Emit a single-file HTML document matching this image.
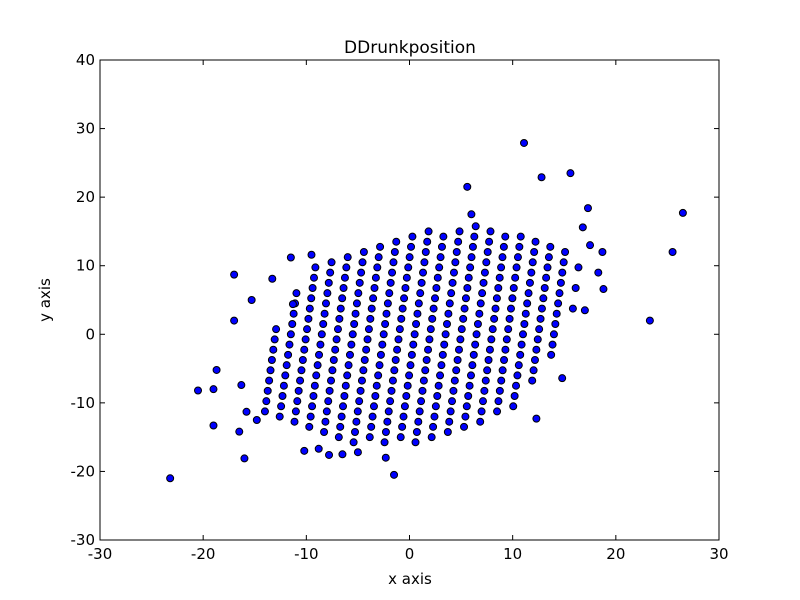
<!DOCTYPE html>
<html><head><meta charset="utf-8"><style>
body{margin:0;background:#fff;}
svg{display:block;font-family:"DejaVu Sans","Liberation Sans",sans-serif;}
</style></head><body>
<svg id="chart" width="800" height="600" xmlns="http://www.w3.org/2000/svg">
<rect x="0" y="0" width="800" height="600" fill="#fff"/>
<text x="410" y="53" text-anchor="middle" font-size="17">DDrunkposition</text>
<text x="410" y="584" text-anchor="middle" font-size="15">x axis</text>
<text x="50" y="300" text-anchor="middle" font-size="15" transform="rotate(-90 50 300)">y axis</text>
<g id="ticks"></g>
<g id="points"></g>
<rect x="100" y="60" width="619" height="480" fill="none" stroke="#000" stroke-width="1"/>
</svg>
<script>
const xTicks=[-30,-20,-10,0,10,20,30];
const yTicks=[-30,-20,-10,0,10,20,30,40];
const colX=[-13,-11.5,-10,-8.5,-7,-5.5,-4,-2.5,-1,0.5,2,3.5,5,6.5,8,9.5,11,12.5,14,15.5];
const colY=[
[-11.25,-9.75,-8.25,-6.75,-5.25,-3.75,-2.25,-0.75,0.75],
[-12,-10.5,-9,-7.5,-6,-4.5,-3,-1.5,0,1.5,3,4.5,6],
[-12.75,-11.25,-9.75,-8.25,-6.75,-5.25,-3.75,-2.25,-0.75,0.75,2.25,3.75,5.25,6.75,8.25,9.75],
[-13.5,-12,-10.5,-9,-7.5,-6,-4.5,-3,-1.5,0,1.5,3,4.5,6,7.5,9,10.5],
[-14.25,-12.75,-11.25,-9.75,-8.25,-6.75,-5.25,-3.75,-2.25,-0.75,0.75,2.25,3.75,5.25,6.75,8.25,9.75,11.25],
[-15,-13.5,-12,-10.5,-9,-7.5,-6,-4.5,-3,-1.5,0,1.5,3,4.5,6,7.5,9,10.5,12],
[-15.75,-14.25,-12.75,-11.25,-9.75,-8.25,-6.75,-5.25,-3.75,-2.25,-0.75,0.75,2.25,3.75,5.25,6.75,8.25,9.75,11.25,12.75],
[-15,-13.5,-12,-10.5,-9,-7.5,-6,-4.5,-3,-1.5,0,1.5,3,4.5,6,7.5,9,10.5,12,13.5],
[-15.75,-14.25,-12.75,-11.25,-9.75,-8.25,-6.75,-5.25,-3.75,-2.25,-0.75,0.75,2.25,3.75,5.25,6.75,8.25,9.75,11.25,12.75,14.25],
[-15,-13.5,-12,-10.5,-9,-7.5,-6,-4.5,-3,-1.5,0,1.5,3,4.5,6,7.5,9,10.5,12,13.5,15],
[-15.75,-14.25,-12.75,-11.25,-9.75,-8.25,-6.75,-5.25,-3.75,-2.25,-0.75,0.75,2.25,3.75,5.25,6.75,8.25,9.75,11.25,12.75,14.25],
[-15,-13.5,-12,-10.5,-9,-7.5,-6,-4.5,-3,-1.5,0,1.5,3,4.5,6,7.5,9,10.5,12,13.5,15],
[-14.25,-12.75,-11.25,-9.75,-8.25,-6.75,-5.25,-3.75,-2.25,-0.75,0.75,2.25,3.75,5.25,6.75,8.25,9.75,11.25,12.75,14.25,15.75],
[-13.5,-12,-10.5,-9,-7.5,-6,-4.5,-3,-1.5,0,1.5,3,4.5,6,7.5,9,10.5,12,13.5,15],
[-12.75,-11.25,-9.75,-8.25,-6.75,-5.25,-3.75,-2.25,-0.75,0.75,2.25,3.75,5.25,6.75,8.25,9.75,11.25,12.75,14.25],
[-11.25,-9.75,-8.25,-6.75,-5.25,-3.75,-2.25,-0.75,0.75,2.25,3.75,5.25,6.75,8.25,9.75,11.25,12.75,14.25],
[-10.5,-9,-7.5,-6,-4.5,-3,-1.5,0,1.5,3,4.5,6,7.5,9,10.5,12,13.5],
[-6.75,-5.25,-3.75,-2.25,-0.75,0.75,2.25,3.75,5.25,6.75,8.25,9.75,11.25,12.75],
[-3,-1.5,0,1.5,3,4.5,6,7.5,9,10.5,12],
[3.75,6.75,9.75]
];
const outX=[-23.2,-20.5,-19,-19,-18.7,-17,-17,-16.5,-16.3,-16,-15.8,-15.3,-14.8,-13.3,-11.5,-11.3,-9.5,-10.2,-8.8,-7.8,-6.5,-5,-2.3,-1.5,5.6,6,11.1,12.8,15.6,16.8,17.3,17.5,18.3,18.7,18.8,17,14.8,12.3,23.3,25.5,26.5];
const outY=[-21,-8.2,-8,-13.3,-5.2,8.7,2,-14.2,-7.4,-18.1,-11.3,5,-12.5,8.1,11.2,4.4,11.6,-17,-16.7,-17.6,-17.5,-17.2,-18,-20.5,21.5,17.5,27.9,22.9,23.5,15.6,18.4,13,9,12,6.6,3.5,-6.4,-12.3,2,12,17.7];
const NS="http://www.w3.org/2000/svg";
const sx=v=>100+(v+30)*619/60;
const sy=v=>540-(v+30)*480/70;
const tg=document.getElementById('ticks');
const pg=document.getElementById('points');
function mk(tag,attrs,parent){const e=document.createElementNS(NS,tag);for(const k in attrs)e.setAttribute(k,attrs[k]);parent.appendChild(e);return e;}
xTicks.forEach(t=>{const x=sx(t);
const l1=mk('line',{x1:x,x2:x,y1:540,y2:535,stroke:'#000'},tg);


const l2=mk('line',{x1:x,x2:x,y1:60,y2:65,stroke:'#000'},tg);


const tx=mk('text',{x:x,y:559,'text-anchor':'middle','font-size':15},tg);tx.textContent=t;

});
yTicks.forEach(t=>{const y=sy(t);
const l1=mk('line',{x1:100,x2:105,y1:y,y2:y,stroke:'#000'},tg);


const l2=mk('line',{x1:719,x2:714,y1:y,y2:y,stroke:'#000'},tg);


const tx=mk('text',{x:95,y:y+5,'text-anchor':'end','font-size':15},tg);tx.textContent=t;

});
function dot(x,y){const c=mk('circle',{cx:sx(x),cy:sy(y),r:3.5,fill:'#0000ff',stroke:'#000','stroke-width':1},pg);

}
colX.forEach((x,i)=>colY[i].forEach(y=>dot(x+0.09*y,y)));
outX.forEach((x,i)=>dot(x,outY[i]));
</script>
</body></html>
